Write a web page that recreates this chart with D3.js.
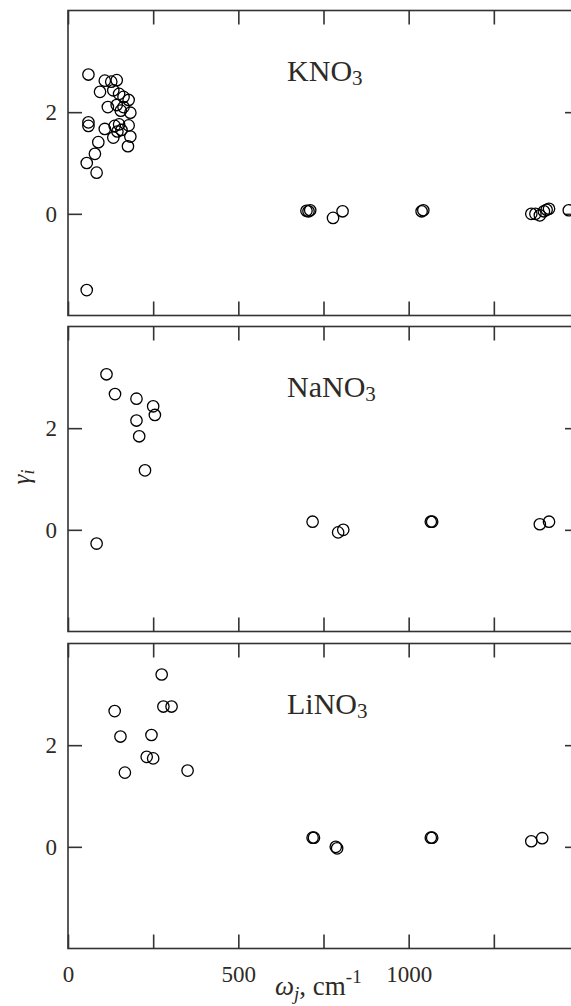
<!DOCTYPE html>
<html>
<head>
<meta charset="utf-8">
<script src="https://cdn.jsdelivr.net/npm/d3@7"></script>
<style>
  html, body { margin: 0; padding: 0; background: #fff; }
  svg { display: block; }
  text { font-family: "Liberation Serif", "Times New Roman", serif; fill: #2e2a26; }
</style>
</head>
<body>
<svg id="chart" width="571" height="1006"></svg>
<script>
// Mode Grüneisen parameters gamma_j against mode frequency omega_j (cm^-1)
const panelNames = ["KNO", "NaNO", "LiNO"];

const kno3Omega = [60, 108, 127, 143, 94, 133, 150, 163, 178, 117, 143, 163, 183, 155,
  60, 60, 108, 137, 150, 178, 133, 157, 145, 183, 176, 89, 79, 55, 84, 55,
  700, 706, 711, 778, 806, 1038, 1043, 1360, 1372, 1385, 1397, 1405, 1412, 1470];
const kno3Gamma = [2.74, 2.62, 2.60, 2.63, 2.40, 2.43, 2.36, 2.30, 2.24, 2.10, 2.14, 2.10, 1.99, 2.03,
  1.80, 1.73, 1.67, 1.73, 1.76, 1.74, 1.50, 1.65, 1.62, 1.52, 1.33, 1.41, 1.18, 1.00, 0.81, -1.50,
  0.06, 0.05, 0.07, -0.08, 0.05, 0.05, 0.07, 0.00, 0.00, -0.03, 0.05, 0.08, 0.10, 0.07];

const nano3Omega = [113, 138, 201, 250, 255, 201, 209, 226, 84,
  718, 793, 808, 1065, 1069, 1385, 1412];
const nano3Gamma = [3.06, 2.67, 2.58, 2.43, 2.26, 2.15, 1.84, 1.17, -0.27,
  0.16, -0.05, 0.00, 0.16, 0.16, 0.11, 0.16];

const lino3Omega = [275, 280, 304, 137, 154, 245, 231, 250, 167, 351,
  718, 722, 786, 790, 1065, 1069, 1360, 1392];
const lino3Gamma = [3.39, 2.76, 2.76, 2.67, 2.17, 2.20, 1.77, 1.74, 1.46, 1.50,
  0.18, 0.18, 0.00, -0.03, 0.18, 0.18, 0.11, 0.17];

const xTicks = [0, 250, 500, 750, 1000, 1250, 1500];
const xTickLabels = [0, 500, 1000];
const yTicks = [0, 2];

const series = [
  { name: panelNames[0], omega: kno3Omega, gamma: kno3Gamma },
  { name: panelNames[1], omega: nano3Omega, gamma: nano3Gamma },
  { name: panelNames[2], omega: lino3Omega, gamma: lino3Gamma }
];

const svg = d3.select("#chart");
const left = 68, right = 579;
const panelTops = [10.5, 326.5, 643.5];
const panelH = 305;
const tickLen = 14;

const x = d3.scaleLinear().domain([0, 1500]).range([left, right]);

series.forEach((s, i) => {
  const top = panelTops[i], bottom = top + panelH;
  const y = d3.scaleLinear().domain([-2, 4]).range([bottom, top]);
  const g = svg.append("g");
  const last = i === series.length - 1;

  // inward ticks on all four sides
  const axes = [
    { a: d3.axisBottom(x).tickValues(xTicks), tr: `translate(0,${bottom})`, lab: last },
    { a: d3.axisTop(x).tickValues(xTicks), tr: `translate(0,${top})`, lab: false },
    { a: d3.axisLeft(y).tickValues(yTicks), tr: `translate(${left},0)`, lab: true },
    { a: d3.axisRight(y).tickValues(yTicks), tr: `translate(${right},0)`, lab: false }
  ];
  axes.forEach(({ a, tr, lab }, k) => {
    a.tickSize(-tickLen).tickPadding(11);
    if (k === 0) a.tickFormat(d => (lab && xTickLabels.includes(d)) ? d : "");
    else if (lab) a.tickFormat(d3.format("d"));
    else a.tickFormat("");
    const ag = g.append("g").attr("transform", tr).call(a);
    ag.select(".domain").remove();
    ag.selectAll(".tick line").attr("stroke", "#333").attr("stroke-width", 1.6);
    ag.selectAll(".tick text")
      .attr("font-family", "Liberation Serif, serif")
      .attr("font-size", 23)
      .attr("fill", "#4a3b2c");
    if (k === 0) ag.selectAll(".tick text").attr("dy", null).attr("y", 33);
  });

  // frame
  g.append("rect")
    .attr("x", left).attr("y", top)
    .attr("width", right - left).attr("height", panelH)
    .attr("fill", "none").attr("stroke", "#333").attr("stroke-width", 1.6);

  // compound label
  const lbl = g.append("text")
    .attr("x", x(643)).attr("y", top + 70)
    .attr("font-size", 30);
  lbl.append("tspan").text(s.name);
  lbl.append("tspan").attr("font-size", 21).attr("dy", 4).text("3");

  // points
  g.append("g").selectAll("circle")
    .data(s.omega.map((w, j) => [w, s.gamma[j]]))
    .join("circle")
    .attr("cx", d => x(d[0]))
    .attr("cy", d => y(d[1]))
    .attr("r", 5.7)
    .attr("fill", "none")
    .attr("stroke", "#000")
    .attr("stroke-width", 1.3);
});

// y title: gamma_j
const yt = svg.append("text")
  .attr("transform", "translate(30,477) rotate(-90)")
  .attr("text-anchor", "middle")
  .attr("font-size", 25)
  .attr("fill", "#4a3b2c");
yt.append("tspan").attr("font-style", "italic").text("γ");
yt.append("tspan").attr("font-style", "italic").attr("font-size", 18).attr("dy", 4).text("i");

// x title: omega_j, cm^-1
const xt = svg.append("text")
  .attr("x", 275).attr("y", 995)
  .attr("font-size", 27);
xt.append("tspan").attr("font-style", "italic").text("ω");
xt.append("tspan").attr("font-style", "italic").attr("font-size", 19).attr("dy", 5).text("j");
xt.append("tspan").attr("dy", -5).text(", cm");
xt.append("tspan").attr("font-size", 19).attr("dy", -12).text("-1");
</script>
</body>
</html>
